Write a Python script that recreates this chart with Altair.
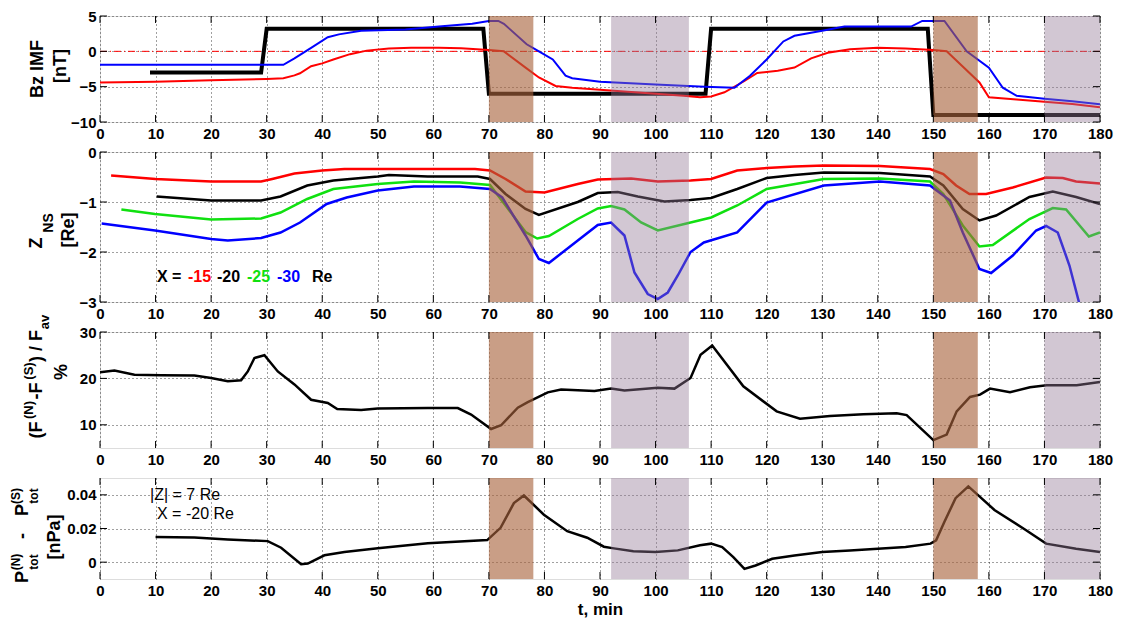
import altair as alt
import pandas as pd

FONT = "Liberation Sans"

# ---------------- data ----------------
xticks = list(range(0, 181, 10))

brown_start = [70, 150]
brown_end = [78, 158]
gray_start = [92, 170]
gray_end = [106, 180]

# Panel 1 : Bz IMF [nT]
bz_black_t = [9, 29, 30, 69, 70, 109, 110, 149, 150, 180]
bz_black_v = [-3, -3, 3.2, 3.2, -6, -6, 3.2, 3.2, -9, -9]
bz_red_t = [0, 10, 20, 30, 33, 35, 36, 38, 40, 42, 45, 48, 52, 56, 61, 65, 70, 72.7, 76.6, 79, 82, 85, 90, 100, 105, 108,
            110, 112.4, 116, 118.3, 122, 125, 128, 131, 135, 140, 145, 150, 152.4, 158.3, 160, 165, 170, 175, 180]
bz_red_v = [-4.4, -4.3, -4.1, -3.9, -3.8, -3.4, -3.1, -2.1, -1.7, -1.15, -0.4, 0.1, 0.4, 0.5, 0.5, 0.45, 0.2, 0.0, -2.3,
            -3.7, -4.9, -5.15, -5.45, -6.0, -6.3, -6.5, -6.4, -5.8, -4.2, -3.05, -2.75, -2.3, -1.0, -0.2, 0.3, 0.5, 0.4,
            0.2, 0.0, -4.4, -6.5, -6.8, -7.15, -7.45, -7.9]
bz_blue_t = [0, 33, 35, 38, 41, 43, 47, 55, 61, 67, 70, 71.7, 72.7, 76.8, 79, 81.5, 83.8, 85, 90, 100, 108.8, 114.2, 117,
             120, 123, 125, 130, 134, 146, 148, 152, 156, 160, 162.5, 165, 170, 175, 180]
bz_blue_v = [-1.9, -1.9, -1.0, 0.5, 2.0, 2.4, 2.9, 3.1, 3.5, 3.9, 4.3, 4.3, 3.9, 1.0, 0.0, -1.15, -3.45, -3.8, -4.3, -4.7,
             -5.0, -5.15, -3.45, -1.15, 1.4, 2.2, 2.9, 3.5, 3.5, 4.3, 4.3, 0.0, -2.3, -5.15, -6.3, -6.7, -7.05, -7.5]
bz_zero = [0]

# Panel 2 : Z_NS [Re]
z15_t = [2, 10, 20, 29, 31, 35, 40, 44, 52, 60, 67.5, 70.2, 73, 76.6, 80, 86, 89.6, 95.6, 100.4, 106.3, 110, 114.7, 120,
         125, 130.3, 140.4, 149.4, 151.8, 154.1, 156.5, 159.5, 164.3, 170.3, 173.3, 175.7, 180]
z15_v = [-0.47, -0.54, -0.59, -0.59, -0.54, -0.43, -0.37, -0.34, -0.34, -0.34, -0.34, -0.37, -0.54, -0.79, -0.81, -0.64,
         -0.55, -0.53, -0.59, -0.57, -0.54, -0.37, -0.32, -0.29, -0.27, -0.28, -0.34, -0.44, -0.67, -0.84, -0.84, -0.71,
         -0.51, -0.52, -0.59, -0.63]
z20_t = [10.2, 20, 29, 32.5, 37.3, 42, 50, 52, 59, 68, 70.2, 73, 76.6, 79, 86, 89.6, 93.2, 96.8, 101.6, 106.3, 110, 114.7,
         120, 125, 130.3, 140.4, 149.4, 151.8, 155.3, 158.3, 161.3, 167.3, 171.5, 175.7, 180]
z20_v = [-0.89, -0.97, -0.97, -0.89, -0.67, -0.57, -0.49, -0.46, -0.49, -0.49, -0.54, -0.84, -1.14, -1.26, -1.0, -0.82,
         -0.80, -0.89, -0.99, -0.96, -0.92, -0.74, -0.52, -0.46, -0.41, -0.42, -0.49, -0.67, -1.14, -1.37, -1.27, -0.9,
         -0.79, -0.9, -1.04]
z25_t = [3.85, 9.9, 20, 29, 32.5, 37.3, 42, 50, 56.5, 64.8, 70.2, 73, 76.6, 78.7, 80.8, 86, 89.6, 92, 94.4, 97.4, 100.4,
         106.3, 110, 114.7, 120, 130.3, 140.4, 149.4, 151.8, 155.3, 158.3, 160.7, 167.3, 171.5, 173.9, 178, 180]
z25_v = [-1.15, -1.24, -1.35, -1.33, -1.21, -0.94, -0.74, -0.64, -0.59, -0.61, -0.66, -1.07, -1.6, -1.73, -1.68, -1.34,
         -1.13, -1.08, -1.15, -1.41, -1.57, -1.41, -1.31, -1.07, -0.74, -0.54, -0.53, -0.59, -0.84, -1.47, -1.89, -1.86,
         -1.34, -1.12, -1.15, -1.69, -1.61]
z30_t = [0.3, 9.9, 20, 23, 29, 32.5, 36, 40.8, 44.4, 50, 56.5, 64.8, 70.2, 72.4, 76.6, 79, 80.8, 86, 89.6, 92, 94.4, 96.2,
         98.6, 100.4, 102.2, 104, 106.3, 108.7, 114.7, 120, 130.3, 140.4, 149.4, 153, 155.3, 158.3, 160.4, 164.3, 168.5,
         170.3, 172.4, 174.5, 176.3, 177]
z30_v = [-1.43, -1.57, -1.74, -1.77, -1.72, -1.61, -1.41, -1.04, -0.91, -0.77, -0.69, -0.69, -0.74, -0.91, -1.67, -2.14,
         -2.22, -1.77, -1.46, -1.41, -1.67, -2.41, -2.84, -2.94, -2.81, -2.47, -2.0, -1.81, -1.61, -1.01, -0.67, -0.59,
         -0.67, -0.97, -1.61, -2.34, -2.42, -2.07, -1.57, -1.48, -1.61, -2.27, -3.04, -3.2]

# Panel 3 : (F(N)-F(S))/Fav [%]
f_t = [0, 2.6, 6.2, 11, 17, 20, 23, 25.4, 26.6, 27.8, 29.6, 32, 35, 38, 41, 42.7, 47, 50, 59, 64.4, 66.8, 70.4, 72.2,
       75.2, 77, 80.6, 83, 89, 92, 94.4, 100.4, 103.4, 106.3, 108.1, 110.2, 115.8, 121.8, 126, 131.4, 137.4, 143.4, 145.2,
       150, 152.4, 154.2, 156.6, 158.4, 160.2, 163.8, 167.4, 170.4, 175.8, 180]
f_v = [21.3, 21.7, 20.8, 20.7, 20.6, 20.1, 19.4, 19.6, 21.5, 24.4, 25.0, 21.5, 18.7, 15.4, 14.7, 13.4, 13.2, 13.5, 13.6,
       13.6, 12.2, 9.1, 9.9, 13.7, 14.9, 17.0, 17.6, 17.3, 17.8, 17.4, 18.0, 17.8, 20.1, 25.1, 27.1, 18.3, 12.9, 11.3,
       11.9, 12.3, 12.5, 12.1, 6.7, 7.9, 12.9, 16.0, 16.5, 17.8, 17.0, 18.1, 18.5, 18.5, 19.2]

# Panel 4 : P(N)tot - P(S)tot [nPa]
p_t = [10, 17, 23, 30.2, 32.6, 36.2, 37.4, 40.4, 44, 50, 59, 69.7, 72.1, 74.5, 76.3, 79.9, 84.1, 87.7, 90.7, 92.5, 96,
       100, 104, 108, 110, 112, 114, 116, 118, 121, 125, 130, 135, 140, 145, 149.5, 150.5, 152, 154, 156.3, 158, 161,
       166.7, 170.3, 175.7, 180]
p_v = [0.0149, 0.0147, 0.0135, 0.0125, 0.0086, -0.0012, -0.0008, 0.0041, 0.0061, 0.0082, 0.0112, 0.0131, 0.0204, 0.0351,
       0.0396, 0.0282, 0.0184, 0.0145, 0.0092, 0.0082, 0.0065, 0.006, 0.007, 0.010, 0.011, 0.009, 0.003, -0.004, -0.002,
       0.002, 0.004, 0.006, 0.007, 0.008, 0.009, 0.011, 0.013, 0.024, 0.038, 0.045, 0.040, 0.031, 0.019, 0.011, 0.008,
       0.006]

# ---------------- helpers ----------------
W = 1000
TICK = 7
one = pd.DataFrame({"a": [0]})
xscale = alt.Scale(domain=[0, 180], nice=False, zero=False)
shade_df = pd.DataFrame({
    "s": brown_start + gray_start,
    "e": brown_end + gray_end,
    "kind": ["brown"] * len(brown_start) + ["gray"] * len(gray_start),
})


def xaxis(last=False):
    kw = dict(values=xticks, labelFont=FONT, labelFontWeight="bold", labelFontSize=15, labelColor="black",
              grid=True, gridDash=[1, 3], gridColor="black", gridOpacity=0.75, gridWidth=1,
              ticks=False, tickSize=0, domain=False, labelPadding=4, labelFlush=False, labelOverlap=False)
    if last:
        return alt.Axis(title="t, min", titleFont=FONT, titleFontWeight="bold", titleFontSize=17,
                        titleColor="black", titlePadding=3, **kw)
    return alt.Axis(title=None, **kw)


def yaxis(vals, fmt=None):
    kw = dict(values=vals, labelFont=FONT, labelFontWeight="bold", labelFontSize=15, labelColor="black",
              grid=True, gridDash=[1, 3], gridColor="black", gridOpacity=0.75, gridWidth=1,
              ticks=False, tickSize=0, domain=False, labelPadding=4, labelOverlap=False, title=None)
    if fmt:
        kw["format"] = fmt
    return alt.Axis(**kw)


def txt(text, x, y, size=18, color="black", angle=270, weight="bold", align="center"):
    return alt.Chart(one).mark_text(text=text, angle=angle, fontSize=size, fontWeight=weight, font=FONT,
                                    color=color, align=align, baseline="middle").encode(
        x=alt.value(x), y=alt.value(y))


def panel(lines, h, ydom, yvals, texts, fmt=None, last=False, zero=None):
    yscale = alt.Scale(domain=ydom, nice=False, zero=False)
    XA = xaxis(last)
    YA = yaxis(yvals, fmt)
    layers = []
    if zero is not None:
        zdf = pd.DataFrame({"v": zero})
        layers.append(alt.Chart(zdf).mark_rule(color="#ff0000", strokeWidth=1, strokeDash=[7, 3, 1, 3]).encode(
            x=alt.value(0), x2=alt.value(W), y=alt.Y("v:Q", scale=yscale, axis=YA)))
    for t, v, color, width in lines:
        df = pd.DataFrame({"t": t, "v": v})
        layers.append(alt.Chart(df).mark_line(color=color, strokeWidth=width, clip=True).encode(
            x=alt.X("t:Q", scale=xscale, axis=XA),
            y=alt.Y("v:Q", scale=yscale, axis=YA),
        ))
    shades = alt.Chart(shade_df).mark_rect().encode(
        x=alt.X("s:Q", scale=xscale, axis=XA), x2="e:Q",
        y=alt.value(0), y2=alt.value(h),
        color=alt.Color("kind:N", scale=alt.Scale(domain=["brown", "gray"], range=["#a8623c", "#937a96"]),
                        legend=None),
        opacity=alt.Opacity("kind:N", scale=alt.Scale(domain=["brown", "gray"], range=[0.62, 0.42]),
                            legend=None),
    )
    layers.append(shades)
    xt = pd.DataFrame({"t": xticks})
    yt = pd.DataFrame({"v": yvals})
    layers.append(alt.Chart(xt).mark_rule(color="black", strokeWidth=1).encode(
        x=alt.X("t:Q", scale=xscale, axis=XA), y=alt.value(0), y2=alt.value(TICK)))
    layers.append(alt.Chart(xt).mark_rule(color="black", strokeWidth=1).encode(
        x=alt.X("t:Q", scale=xscale, axis=XA), y=alt.value(h), y2=alt.value(h - TICK)))
    layers.append(alt.Chart(yt).mark_rule(color="black", strokeWidth=1).encode(
        y=alt.Y("v:Q", scale=yscale, axis=YA), x=alt.value(0), x2=alt.value(TICK)))
    layers.append(alt.Chart(yt).mark_rule(color="black", strokeWidth=1).encode(
        y=alt.Y("v:Q", scale=yscale, axis=YA), x=alt.value(W), x2=alt.value(W - TICK)))
    layers += texts
    return alt.layer(*layers).properties(width=W, height=h)


# Panel 1
H1 = 106
p1 = panel(
    [(bz_black_t, bz_black_v, "black", 4), (bz_red_t, bz_red_v, "#ff0000", 2), (bz_blue_t, bz_blue_v, "#0000ff", 2)],
    H1, [-10, 5], [-10, -5, 0, 5],
    [txt("Bz IMF", -62, 53), txt("[nT]", -39, 50)],
    zero=bz_zero,
)

# Panel 2
H2 = 150
legend_txt = [
    txt("X =", 57, 125, size=16, angle=0, align="left"),
    txt("-15", 88, 125, size=16, angle=0, align="left", color="#ff0000"),
    txt("-20", 117, 125, size=16, angle=0, align="left"),
    txt("-25", 147, 125, size=16, angle=0, align="left", color="#10e010"),
    txt("-30", 177, 125, size=16, angle=0, align="left", color="#0000ff"),
    txt("Re", 212, 125, size=16, angle=0, align="left"),
]
p2 = panel(
    [(z15_t, z15_v, "#ff0000", 2.5), (z20_t, z20_v, "black", 2.5), (z25_t, z25_v, "#10e010", 2.5),
     (z30_t, z30_v, "#0000ff", 2.5)],
    H2, [-3, 0], [-3, -2, -1, 0],
    [txt("Z", -63, 91), txt("NS", -51, 71, size=14), txt("[Re]", -31, 78)] + legend_txt,
)

# Panel 3
H3 = 116
p3 = panel(
    [(f_t, f_v, "black", 2.5)],
    H3, [5, 30], [10, 20, 30],
    [txt("(F", -63, 98), txt("(N)", -71, 78, size=13), txt("-F", -63, 59), txt("(S)", -71, 39, size=13),
     txt(") / F", -63, 14), txt("av", -55, -10, size=13), txt("%", -38, 40)],
)

# Panel 4
H4 = 101
p4 = panel(
    [(p_t, p_v, "black", 2.5)],
    H4, [-0.01, 0.05], [0, 0.02, 0.04],
    [txt("P", -77, 99), txt("(N)", -84, 84, size=12), txt("tot", -66, 84, size=12), txt("-", -77, 58),
     txt("P", -77, 32), txt("(S)", -84, 18, size=12), txt("tot", -66, 18, size=12), txt("[nPa]", -45, 59),
     txt("|Z| = 7 Re", 50, 17, size=16, angle=0, weight="normal", align="left"),
     txt("X = -20 Re", 57, 36, size=16, angle=0, weight="normal", align="left")],
    fmt=".2~f", last=True,
)

chart = alt.vconcat(p1, p2, p3, p4, spacing=30, bounds="flush").properties(
    padding={"left": 1, "top": 0, "right": 0, "bottom": 0}
).configure_view(stroke="black", strokeWidth=1.5).configure(font=FONT)

chart.save("out.html", embed_options={"renderer": "svg", "actions": False})
